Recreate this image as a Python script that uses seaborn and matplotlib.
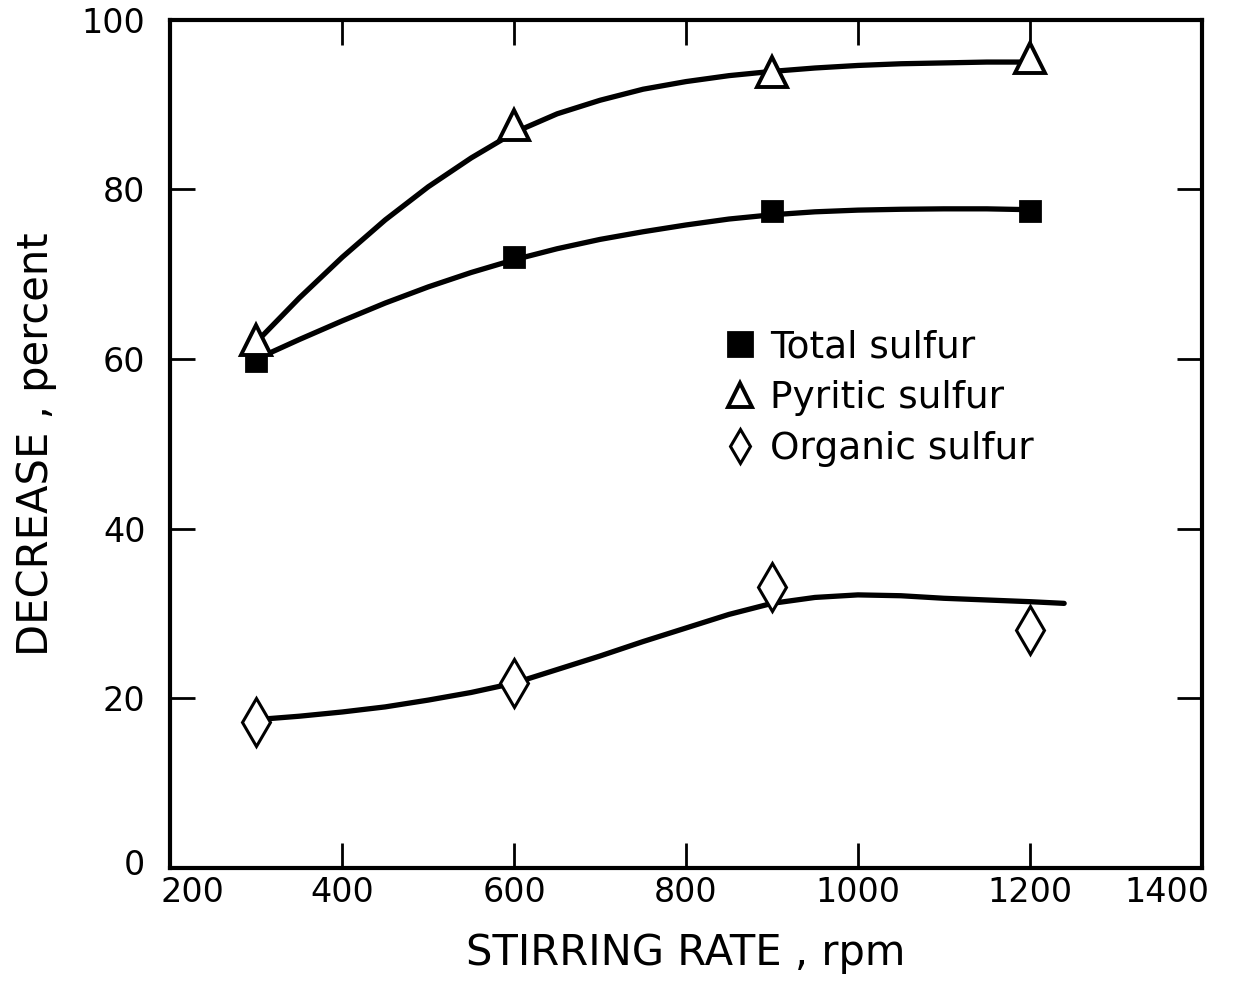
import matplotlib
matplotlib.use("Agg")
import matplotlib.pyplot as plt
import matplotlib.transforms as mtransforms
import seaborn as sns

# measured points
rates = [300, 600, 900, 1200]
total_sulfur = [59.8, 72.0, 77.4, 77.4]
pyritic_sulfur = [62.2, 87.6, 93.8, 95.5]
organic_sulfur = [17.2, 21.8, 33.1, 28.1]

# hand-drawn fitted curves
curve_rate = [300, 350, 400, 450, 500, 550, 600, 650, 700, 750, 800, 850,
              900, 950, 1000, 1050, 1100, 1150, 1200]
total_curve = [60.0, 62.3, 64.5, 66.6, 68.5, 70.2, 71.7, 73.0, 74.1, 75.0,
               75.8, 76.5, 77.0, 77.35, 77.55, 77.65, 77.7, 77.7, 77.6]
pyritic_curve = [62.0, 67.2, 72.0, 76.4, 80.3, 83.7, 86.7, 88.9, 90.5, 91.8,
                 92.7, 93.4, 93.9, 94.3, 94.6, 94.8, 94.9, 95.0, 95.0]
organic_rate = curve_rate + [1240]
organic_curve = [17.5, 17.9, 18.4, 19.0, 19.8, 20.7, 21.8, 23.4, 25.0, 26.7,
                 28.3, 29.9, 31.2, 31.9, 32.2, 32.1, 31.8, 31.6, 31.4, 31.2]

x_ticks = [200, 400, 600, 800, 1000, 1200, 1400]
y_ticks = [0, 20, 40, 60, 80, 100]

sns.set_style("ticks")
plt.rcParams["font.family"] = ["DejaVu Sans"]
for k in ["text.color", "axes.labelcolor", "xtick.color", "ytick.color",
          "axes.edgecolor"]:
    plt.rcParams[k] = "black"

fig = plt.figure(figsize=(12.35, 9.82), dpi=100)
ax = fig.add_axes([0.138, 0.116, 0.835, 0.864])

lw = 3.8
sns.lineplot(x=curve_rate, y=pyritic_curve, ax=ax, color="black", lw=lw, sort=False)
sns.lineplot(x=curve_rate, y=total_curve, ax=ax, color="black", lw=lw, sort=False)
sns.lineplot(x=organic_rate, y=organic_curve, ax=ax, color="black", lw=lw, sort=False)

ax.plot(rates, total_sulfur, ls="none", marker="s", ms=14, mfc="black",
        mec="black", mew=2, label="Total sulfur", zorder=5)
ax.plot(rates, pyritic_sulfur, ls="none", marker="^", ms=22, mfc="white",
        mec="black", mew=2.8, label="Pyritic sulfur", zorder=5)
ax.plot(rates, organic_sulfur, ls="none", marker="d", ms=24, mfc="white",
        mec="black", mew=2.2, label="Organic sulfur", zorder=5)

ax.set_xlim(200, 1400)
ax.set_ylim(0, 100)
ax.set_xticks(x_ticks)
ax.set_yticks(y_ticks)
ax.set_xticklabels([str(t) for t in x_ticks], fontsize=24)
ax.set_yticklabels([str(t) for t in y_ticks], fontsize=24)
ax.tick_params(axis="both", direction="in", length=18, width=2,
               top=True, right=True, color="black")
ax.tick_params(axis="x", pad=6)
ax.tick_params(axis="y", pad=18)
for s in ax.spines.values():
    s.set_linewidth(3)
    s.set_color("black")

# keep end labels inside the figure, as in the original
xl = ax.get_xticklabels()
xl[0].set_horizontalalignment("left")
xl[0].set_transform(xl[0].get_transform() +
                    mtransforms.ScaledTranslation(-10 / 100, 0, fig.dpi_scale_trans))
xl[-1].set_horizontalalignment("right")
xl[-1].set_transform(xl[-1].get_transform() +
                     mtransforms.ScaledTranslation(8 / 100, 0, fig.dpi_scale_trans))
yl = ax.get_yticklabels()
yl[0].set_transform(yl[0].get_transform() +
                    mtransforms.ScaledTranslation(0, 6 / 100, fig.dpi_scale_trans))

ax.set_xlabel("STIRRING RATE , rpm", fontsize=30, labelpad=16)
ax.set_ylabel("DECREASE , percent", fontsize=30, labelpad=18)

leg = ax.legend(loc="upper left", bbox_to_anchor=(0.518, 0.657), frameon=False,
                fontsize=27, handlelength=0.9, handletextpad=0.35,
                labelspacing=0.4, borderpad=0)
for h in leg.legend_handles:
    h.set_markersize(17)

fig.savefig("out.png", dpi=100, facecolor="white")
